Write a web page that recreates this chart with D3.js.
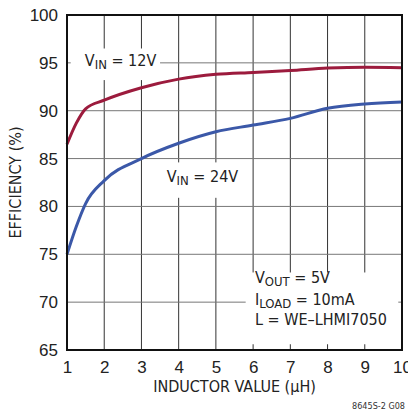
<!DOCTYPE html>
<html>
<head>
<meta charset="utf-8">
<script src="https://cdn.jsdelivr.net/npm/d3@7"></script>
<style>
  body { margin: 0; background: #fff; }
  svg { font-family: "Liberation Sans Narrow", "DejaVu Sans Condensed", sans-serif; }
</style>
</head>
<body>
<div id="chart"></div>
<script>
// inductor value (uH) and efficiency (%)
const inductance = [1, 1.25, 1.5, 2, 3, 4, 5, 6, 7, 8, 9, 10];
const eff12V = [86.5, 88.7, 90.2, 91.1, 92.4, 93.3, 93.8, 94.0, 94.2, 94.45, 94.55, 94.5];
const eff24V = [75.0, 77.9, 80.3, 82.7, 85.0, 86.6, 87.8, 88.5, 89.2, 90.25, 90.7, 90.9];
const xTicks = [1, 2, 3, 4, 5, 6, 7, 8, 9, 10];
const yTicks = [65, 70, 75, 80, 85, 90, 95, 100];

const width = 408, height = 411;
const margin = { left: 67, top: 15, right: 6, bottom: 61 };
const innerW = width - margin.left - margin.right;
const innerH = height - margin.top - margin.bottom;

const svg = d3.select("#chart").append("svg")
  .attr("width", width)
  .attr("height", height);
const g = svg.append("g")
  .attr("transform", "translate(" + margin.left + "," + margin.top + ")");

const x = d3.scaleLinear().domain([1, 10]).range([0, innerW]);
const y = d3.scaleLinear().domain([65, 100]).range([innerH, 0]);

// grid
g.append("g").selectAll("line").data(xTicks.slice(1, -1)).join("line")
  .attr("x1", d => x(d)).attr("x2", d => x(d))
  .attr("y1", 0).attr("y2", innerH)
  .attr("stroke", "#333").attr("stroke-width", 1);
g.append("g").selectAll("line").data(yTicks.slice(1, -1)).join("line")
  .attr("x1", 0).attr("x2", innerW)
  .attr("y1", d => y(d)).attr("y2", d => y(d))
  .attr("stroke", "#777").attr("stroke-width", 1);

// axes, labels only
const xAxis = g.append("g")
  .attr("transform", "translate(0," + innerH + ")")
  .call(d3.axisBottom(x).tickValues(xTicks).tickSize(0).tickPadding(11));
const yAxis = g.append("g")
  .call(d3.axisLeft(y).tickValues(yTicks).tickSize(0).tickPadding(9));
[xAxis, yAxis].forEach(a => {
  a.select(".domain").remove();
  a.selectAll("text").attr("font-size", 17).attr("fill", "#222")
    .style("font-family", "inherit");
});

// white boxes that cut the grid behind the labels
function box(x0, y0, w, h) {
  g.append("rect").attr("x", x0).attr("y", y0).attr("width", w).attr("height", h)
    .attr("fill", "#fff");
}
box(x(1.1), y(96.5), x(3.5) - x(1.1), y(93.2) - y(96.5));
box(x(3.6), y(84.6), x(5.7) - x(3.6), y(80.9) - y(84.6));
box(x(5.8), y(73.1), x(9.9) - x(5.8), y(65.6) - y(73.1));

const line = d3.line()
  .x((d, i) => x(inductance[i]))
  .y(d => y(d))
  .curve(d3.curveMonotoneX);

g.append("path").attr("d", line(eff12V))
  .attr("fill", "none").attr("stroke", "#9c1b3d").attr("stroke-width", 3);
g.append("path").attr("d", line(eff24V))
  .attr("fill", "none").attr("stroke", "#3b58a8").attr("stroke-width", 3);

// frame
g.append("rect").attr("width", innerW).attr("height", innerH)
  .attr("fill", "none").attr("stroke", "#111").attr("stroke-width", 2);

function subLabel(px, py, main, sub, rest) {
  const t = g.append("text").attr("x", px).attr("y", py)
    .attr("font-size", 16).attr("fill", "#222");
  t.append("tspan").text(main);
  t.append("tspan").attr("dy", 3).attr("font-size", 13).text(sub);
  t.append("tspan").attr("dy", -3).text(rest);
}
subLabel(x(1.48), y(94.7), "V", "IN", " = 12V");
subLabel(x(3.68), y(82.6), "V", "IN", " = 24V");
subLabel(x(6.05), y(72.0), "V", "OUT", " = 5V");
subLabel(x(6.05), y(69.7), "I", "LOAD", " = 10mA");
g.append("text").attr("x", x(6.05)).attr("y", y(67.6))
  .attr("font-size", 16).attr("fill", "#222").text("L = WE\u2013LHMI7050");

// axis titles
svg.append("text")
  .attr("x", margin.left + innerW / 2).attr("y", 392)
  .attr("text-anchor", "middle").attr("font-size", 16).attr("fill", "#222")
  .text("INDUCTOR VALUE  (\u00b5H)");
svg.append("text")
  .attr("transform", "translate(21," + (margin.top + innerH / 2) + ") rotate(-90)")
  .attr("text-anchor", "middle").attr("font-size", 16).attr("fill", "#222")
  .text("EFFICIENCY (%)");
svg.append("text")
  .attr("x", 405).attr("y", 409)
  .attr("text-anchor", "end").attr("font-size", 9).attr("fill", "#333")
  .text("8645S-2 G08");
</script>
</body>
</html>
